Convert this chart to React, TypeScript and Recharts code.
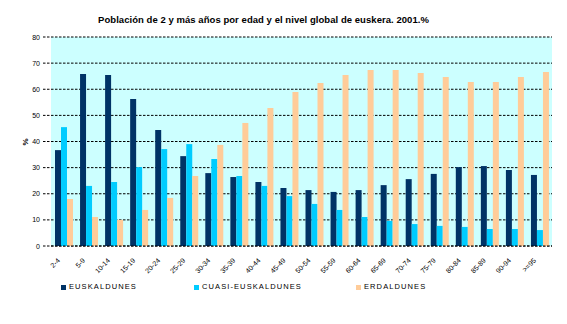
import React from 'react';
import { BarChart, Bar, XAxis, YAxis, CartesianGrid, Legend } from 'recharts';

const categories = ['2-4', '5-9', '10-14', '15-19', '20-24', '25-29', '30-34', '35-39', '40-44', '45-49', '50-54', '55-59', '60-64', '65-69', '70-74', '75-79', '80-84', '85-89', '90-94', '>=95'];
const euskaldunes = [36.7, 65.8, 65.5, 56.3, 44.4, 34.4, 27.9, 26.4, 24.5, 22.2, 21.4, 20.7, 21.4, 23.3, 25.6, 27.6, 30.2, 30.6, 29.1, 27.2];
const cuasiEuskaldunes = [45.5, 23.0, 24.5, 30.2, 37.1, 39.0, 33.3, 26.8, 23.0, 19.1, 16.1, 13.8, 11.1, 9.6, 8.4, 7.7, 7.3, 6.5, 6.5, 6.1];
const erdaldunes = [18.0, 11.1, 10.0, 13.8, 18.4, 26.8, 38.7, 47.1, 52.8, 58.9, 62.4, 65.5, 67.4, 67.4, 66.2, 64.7, 62.8, 62.8, 64.7, 66.6];
const yTicks = [0, 10, 20, 30, 40, 50, 60, 70, 80];
const seriesNames = ['EUSKALDUNES', 'CUASI-EUSKALDUNES', 'ERDALDUNES'];
const colors = ['#003366', '#00CCFF', '#FFCC99'];

const data = categories.map((c, i) => ({
  cat: c,
  e: euskaldunes[i],
  c: cuasiEuskaldunes[i],
  r: erdaldunes[i],
}));

const FONT = '"Liberation Sans", Arial, sans-serif';

const XTick = (props: any) => {
  const { x, y, payload } = props;
  const px = x - 3;
  const py = y + 15;
  return (
    <text x={px} y={py} transform={`rotate(-45, ${px}, ${py})`} textAnchor="end" fontSize={7} fontFamily={FONT} fill="#000">
      {payload.value}
    </text>
  );
};

const YTick = (props: any) => {
  const { x, y, payload } = props;
  return (
    <text x={x} y={y} dy={2.5} textAnchor="end" fontSize={7} fontFamily={FONT} fill="#000">
      {payload.value}
    </text>
  );
};

const legendX = [61, 194, 356];

const LegendContent = () => (
  <div style={{ position: 'relative', width: 567, height: 12 }}>
    {seriesNames.map((n, i) => (
      <div key={n} style={{ position: 'absolute', left: legendX[i], top: 0, display: 'flex', alignItems: 'center', height: 12 }}>
        <span style={{ display: 'inline-block', width: 5, height: 5, background: colors[i], marginRight: 3 }} />
        <span style={{ fontFamily: FONT, fontSize: 7.5, letterSpacing: 1.1, color: '#000', lineHeight: '12px' }}>{n}</span>
      </div>
    ))}
  </div>
);

export default function App() {
  return (
    <div style={{ position: 'absolute', left: 0, top: 0, width: 567, height: 324, background: '#fff' }}>
      <div style={{ position: 'absolute', left: 0, top: 14, width: 527, textAlign: 'center', fontFamily: FONT, fontWeight: 'bold', fontSize: 9.5, letterSpacing: 0.05, color: '#000' }}>
        Población de 2 y más años por edad y el nivel global de euskera. 2001.%
      </div>
      <BarChart
        width={567}
        height={324}
        data={data}
        margin={{ top: 37, right: 15, bottom: 0, left: 0 }}
        barSize={6}
        barGap={0}
      >
        <CartesianGrid vertical={false} fill="#CCFFFF" stroke="#000" strokeDasharray="2.5 1.5" />
        <XAxis
          dataKey="cat"
          interval={0}
          height={78}
          tickLine={false}
          tickSize={0}
          tickMargin={0}
          axisLine={{ stroke: '#000', strokeDasharray: '2.5 1.5' }}
          tick={<XTick />}
        />
        <YAxis
          width={51}
          domain={[0, 80]}
          ticks={yTicks}
          interval={0}
          axisLine={false}
          tickSize={8}
          tickMargin={3}
          tickLine={{ stroke: '#000', strokeDasharray: '2.5 1.5' }}
          tick={<YTick />}
          label={{ value: '%', angle: -90, position: 'insideLeft', offset: 25, dy: 4, style: { fontFamily: FONT, fontSize: 8, fontWeight: 'bold', fill: '#000' } }}
        />
        <Legend
          layout="horizontal"
          verticalAlign="middle"
          align="center"
          wrapperStyle={{ top: 281, left: 0, width: 567 }}
          content={<LegendContent />}
        />
        <Bar dataKey="e" name={seriesNames[0]} fill={colors[0]} isAnimationActive={false} />
        <Bar dataKey="c" name={seriesNames[1]} fill={colors[1]} isAnimationActive={false} />
        <Bar dataKey="r" name={seriesNames[2]} fill={colors[2]} isAnimationActive={false} />
      </BarChart>
    </div>
  );
}
